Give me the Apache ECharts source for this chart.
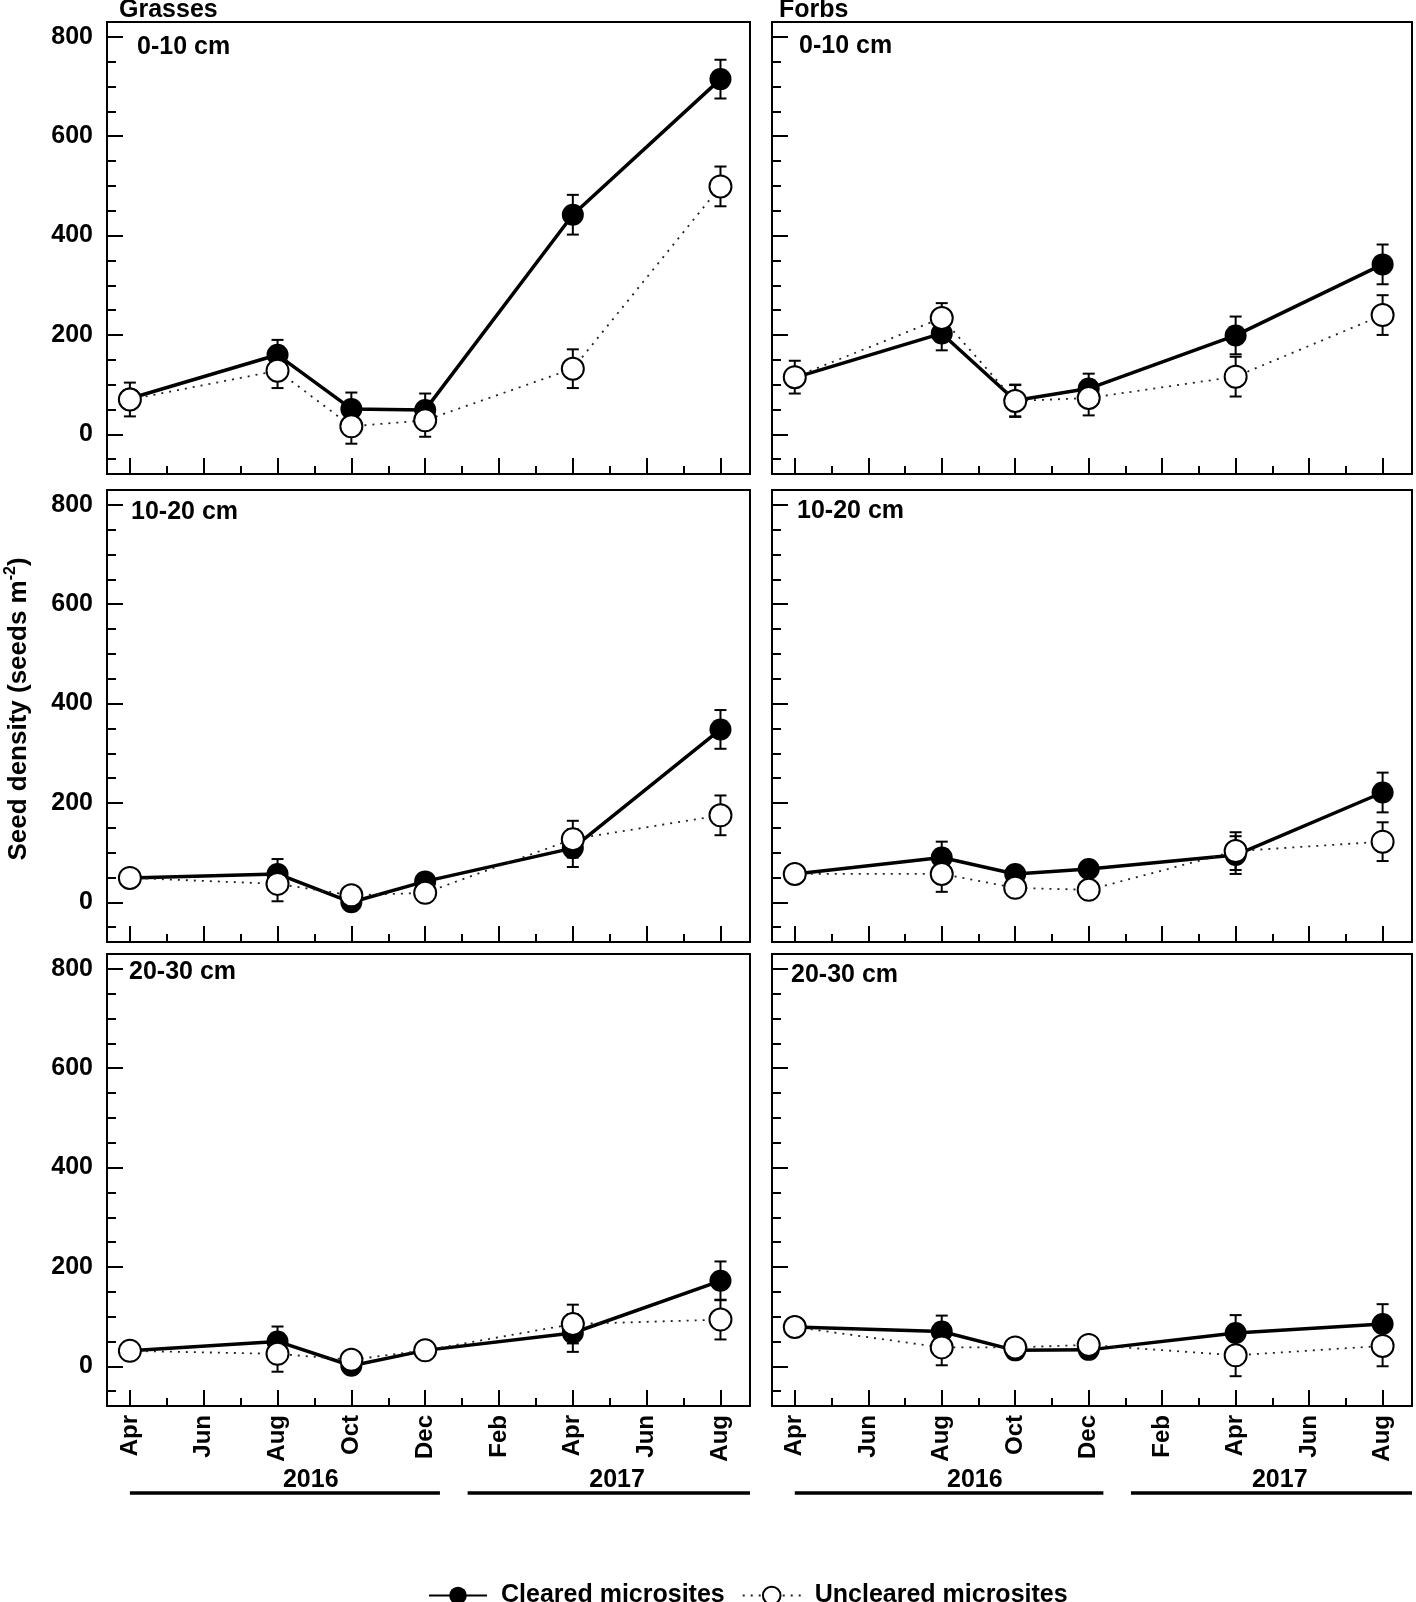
<!DOCTYPE html>
<html><head><meta charset="utf-8">
<script src="https://cdn.jsdelivr.net/npm/echarts@6/dist/echarts.min.js"></script>
<style>html,body{margin:0;padding:0;background:#fff}#c{width:1416px;height:1602px}</style>
</head><body><div id="c"></div>
<script>
// ---------- data ----------
const monthNames = ['Apr','Jun','Aug','Oct','Dec','Feb','Apr','Jun','Aug'];
const monthTicks = [0,2,4,6,8,10,12,14,16];          // months since Apr 2016
const minorMonthTicks = [1,3,5,7,9,11,13,15];
const sampleMonth = [0,4,6,8,12,16];                  // Apr16, Aug16, Oct16, Dec16, Apr17, Aug17
const yTickLabels = [0,200,400,600,800];
const yMinorTicks = [-50,50,100,150,250,300,350,450,500,550,650,700,750];
const years = ['2016','2017'];
const yearSpanStart = [0, 9.15];
const yearSpanEnd = [8.4, 16.8];
const yearLabelAt = [4.9, 13.2];
const groups = ['Grasses','Forbs'];
const depths = ['0-10 cm','10-20 cm','20-30 cm'];
const seriesNames = ['Cleared microsites','Uncleared microsites'];

// Grasses
const grass0Cleared = [72,160,51,49,442,715];
const grass0ClearedSE = [8,30,33,33,40,39];
const grass0Uncleared = [70,128,16,28,132,499];
const grass0UnclearedSE = [34,35,35,33,39,40];
const grass1Cleared = [49,57,0,42,109,348];
const grass1ClearedSE = [8,30,5,10,38,39];
const grass1Uncleared = [49,37,14,19,127,175];
const grass1UnclearedSE = [8,35,8,10,37,40];
const grass2Cleared = [31,50,1,32,67,172];
const grass2ClearedSE = [8,30,5,8,38,39];
const grass2Uncleared = [31,25,13,32,85,94];
const grass2UnclearedSE = [8,36,8,8,39,40];
// Forbs
const forb0Cleared = [114,203,68,92,199,342];
const forb0ClearedSE = [8,34,32,30,38,40];
const forb0Uncleared = [115,234,67,73,116,240];
const forb0UnclearedSE = [33,30,32,35,40,40];
const forb1Cleared = [57,90,57,67,95,221];
const forb1ClearedSE = [8,32,8,10,38,40];
const forb1Uncleared = [57,57,29,25,103,122];
const forb1UnclearedSE = [8,36,8,8,38,39];
const forb2Cleared = [79,70,32,33,67,85];
const forb2ClearedSE = [8,32,8,8,36,40];
const forb2Uncleared = [79,38,38,43,22,41];
const forb2UnclearedSE = [8,36,8,8,42,41];

const panelData = [
  [grass0Cleared, grass0ClearedSE, grass0Uncleared, grass0UnclearedSE],
  [forb0Cleared, forb0ClearedSE, forb0Uncleared, forb0UnclearedSE],
  [grass1Cleared, grass1ClearedSE, grass1Uncleared, grass1UnclearedSE],
  [forb1Cleared, forb1ClearedSE, forb1Uncleared, forb1UnclearedSE],
  [grass2Cleared, grass2ClearedSE, grass2Uncleared, grass2UnclearedSE],
  [forb2Cleared, forb2ClearedSE, forb2Uncleared, forb2UnclearedSE]
];

// ---------- layout ----------
const FONT = "'Liberation Sans', Arial, Helvetica, sans-serif";
const cols = [{left:107, width:643}, {left:772, width:640}];
const rows = [{top:22, height:452}, {top:490, height:452}, {top:954, height:452}];
const X_MIN = -0.62, X_MAX = 16.8, Y_MIN = -80, Y_MAX = 830;
const panelLabelPos = [[137,47],[799,46],[131,512],[797,511],[129,972],[791,975]];

const chart = echarts.init(document.getElementById('c'), null, {renderer:'canvas'});

const grid = [], xAxis = [], yAxis = [], series = [];
const tickStyle = {color:'#000', width:2};
const noLine = {show:false, onZero:false};
for (let r = 0; r < 3; r++) {
  for (let c = 0; c < 2; c++) {
    const g = r*2 + c;
    grid.push({left: cols[c].left, top: rows[r].top, width: cols[c].width, height: rows[r].height,
      show: true, borderColor: '#000', borderWidth: 2, backgroundColor: 'transparent'});
    xAxis.push({type:'value', gridIndex:g, min:X_MIN, max:X_MAX, position:'bottom',
      axisLine:noLine, splitLine:{show:false},
      axisTick:{show:true, inside:true, length:16, lineStyle:tickStyle, customValues: monthTicks},
      axisLabel:{show: r === 2, customValues: monthTicks, rotate: 90, margin: 9,
        formatter: v => monthNames[Math.round(v/2)], fontSize: 24, fontWeight:'bold', color:'#000', fontFamily: FONT}});
    xAxis.push({type:'value', gridIndex:g, min:X_MIN, max:X_MAX, position:'bottom',
      axisLine:noLine, splitLine:{show:false}, axisLabel:{show:false},
      axisTick:{show:true, inside:true, length:8, lineStyle:tickStyle, customValues: minorMonthTicks}});
    yAxis.push({type:'value', gridIndex:g, min:Y_MIN, max:Y_MAX, position:'left',
      axisLine:noLine, splitLine:{show:false},
      axisTick:{show:true, inside:true, length:16, lineStyle:tickStyle, customValues: yTickLabels},
      axisLabel:{show: c === 0, customValues: yTickLabels, margin: 14, fontSize: 25, fontWeight:'bold', color:'#000', fontFamily: FONT}});
    yAxis.push({type:'value', gridIndex:g, min:Y_MIN, max:Y_MAX, position:'left',
      axisLine:noLine, splitLine:{show:false}, axisLabel:{show:false},
      axisTick:{show:true, inside:true, length:9, lineStyle:tickStyle, customValues: yMinorTicks}});

    const [cv, cse, uv, use] = panelData[g];
    const errRender = function (params, api) {
      const x = api.value(0), y = api.value(1), e = api.value(2);
      const p1 = api.coord([x, y + e]);
      const p2 = api.coord([x, y - e]);
      const hw = 6;
      const st = {stroke:'#000', lineWidth:2};
      return {type:'group', children:[
        {type:'line', shape:{x1:p1[0], y1:p1[1], x2:p2[0], y2:p2[1]}, style:st},
        {type:'line', shape:{x1:p1[0]-hw, y1:p1[1], x2:p1[0]+hw, y2:p1[1]}, style:st},
        {type:'line', shape:{x1:p2[0]-hw, y1:p2[1], x2:p2[0]+hw, y2:p2[1]}, style:st}
      ]};
    };
    series.push({type:'custom', name:'err-c', xAxisIndex:2*g, yAxisIndex:2*g, z:1,
      encode:{x:0, y:1}, renderItem: errRender, silent:true,
      data: cv.map((v,i)=>[sampleMonth[i], v, cse[i]])});
    series.push({type:'custom', name:'err-u', xAxisIndex:2*g, yAxisIndex:2*g, z:1,
      encode:{x:0, y:1}, renderItem: errRender, silent:true,
      data: uv.map((v,i)=>[sampleMonth[i], v, use[i]])});
    series.push({type:'line', name: seriesNames[0], xAxisIndex:2*g, yAxisIndex:2*g, z:3,
      symbol:'circle', symbolSize:22, showAllSymbol:true,
      itemStyle:{color:'#000', borderColor:'#000', borderWidth:0},
      lineStyle:{color:'#000', width:3.5, type:'solid'},
      data: cv.map((v,i)=>[sampleMonth[i], v])});
    series.push({type:'line', name: seriesNames[1], xAxisIndex:2*g, yAxisIndex:2*g, z:4,
      symbol:'circle', symbolSize:22, showAllSymbol:true,
      itemStyle:{color:'#fff', borderColor:'#000', borderWidth:2},
      lineStyle:{color:'#222', width:1.8, type:[2,6]},
      data: uv.map((v,i)=>[sampleMonth[i], v])});
  }
}

const txt = (text, x, y, extra) => Object.assign({type:'text', x, y, z:10,
  style:{text, fill:'#000', font:`bold 25px ${FONT}`, align:'left', verticalAlign:'middle'}}, extra || {});

const graphic = [];
graphic.push(txt(groups[0], 119, 10));
graphic.push(txt(groups[1], 779, 10));
for (let g = 0; g < 6; g++) {
  graphic.push(txt(depths[Math.floor(g/2)], panelLabelPos[g][0], panelLabelPos[g][1]));
}
graphic.push({type:'text', x:19, y:709, rotation: Math.PI/2, z:10,
  style:{text:'{a|Seed density (seeds m}{s|-2}{a|)}', align:'center', verticalAlign:'middle',
    rich:{a:{font:`bold 26px ${FONT}`, fill:'#000', lineHeight:32},
          s:{font:`bold 16px ${FONT}`, fill:'#000', verticalAlign:'top', lineHeight:32, padding:[0,0,12,0]}}}});

chart.setOption({
  animation:false,
  backgroundColor:'#fff',
  grid, xAxis, yAxis, series,
  legend:{data: seriesNames, left: 423, top: 1578, itemWidth: 58, itemHeight: 22, itemGap: 17,
    selectedMode:false,
    textStyle:{fontSize:25, fontWeight:'bold', color:'#000', fontFamily:FONT, padding:[0,0,0,9]}},
  graphic
});

// year brackets placed through the bottom-row x axes
const yearY = 1493, yearTextY = 1480;
const extra = [];
[8, 10].forEach(ax => {
  for (let k = 0; k < years.length; k++) {
    const x1 = chart.convertToPixel({xAxisIndex: ax}, yearSpanStart[k]);
    const x2 = chart.convertToPixel({xAxisIndex: ax}, yearSpanEnd[k]);
    const xt = chart.convertToPixel({xAxisIndex: ax}, yearLabelAt[k]);
    extra.push({type:'line', z:10, shape:{x1, y1:yearY, x2, y2:yearY}, style:{stroke:'#000', lineWidth:3.5}});
    extra.push({type:'text', x: xt, y: yearTextY, z:10,
      style:{text: years[k], fill:'#000', font:`bold 25px ${FONT}`, align:'center', verticalAlign:'middle'}});
  }
});
chart.setOption({graphic: graphic.concat(extra)}, {replaceMerge:['graphic']});
</script></body></html>
